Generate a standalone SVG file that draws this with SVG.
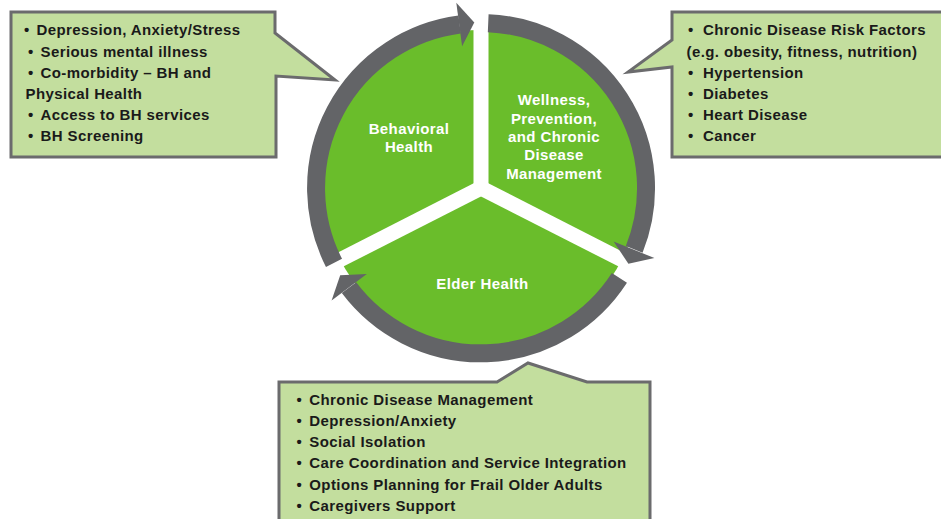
<svg xmlns="http://www.w3.org/2000/svg" width="941" height="519" viewBox="0 0 941 519">
  <defs>
    <style>
      .sector { fill: #6abd2b; }
      .sep { stroke: #ffffff; stroke-width: 15; stroke-linecap: butt; fill: none; }
      .ring { stroke: #636467; stroke-width: 18; fill: none; stroke-linecap: butt; }
      .head { fill: #636467; }
      .label { font-family: "Liberation Sans", Arial, sans-serif; font-weight: bold; font-size: 15px; letter-spacing: 0.4px; fill: #ffffff; text-anchor: middle; }
      .callout { fill: #c3de9e; stroke: #6b6b6d; stroke-width: 3; stroke-linejoin: miter; }
      .item { font-family: "Liberation Sans", Arial, sans-serif; font-weight: bold; font-size: 15px; letter-spacing: 0.4px; fill: #1a1a1a; }
    </style>
  </defs>

  <rect x="0" y="0" width="941" height="519" fill="#ffffff"/>

  <g id="behavioral-health">
    <path class="sector" d="M481,188 L340.2,259.7 A158,158 0 0 1 481,30 Z"/>
    <text class="label" x="409" y="133.5">Behavioral</text>
    <text class="label" x="409" y="152">Health</text>
  </g>

  <g id="wellness">
    <path class="sector" d="M481,188 L481,30 A158,158 0 0 1 621.8,259.7 Z"/>
    <text class="label" x="554" y="105">Wellness,</text>
    <text class="label" x="554" y="123.5">Prevention,</text>
    <text class="label" x="554" y="142">and Chronic</text>
    <text class="label" x="554" y="160">Disease</text>
    <text class="label" x="554" y="178.5">Management</text>
  </g>

  <g id="elder-health">
    <path class="sector" d="M481,188 L621.8,259.7 A158,158 0 0 1 340.2,259.7 Z"/>
    <text class="label" x="482.5" y="288.5">Elder Health</text>
  </g>

  <g id="separators">
    <line class="sep" x1="481" y1="188" x2="481" y2="26"/>
    <line class="sep" x1="481" y1="188" x2="627" y2="262.4"/>
    <line class="sep" x1="481" y1="188" x2="335" y2="262.4"/>
  </g>

  <g id="connectors">
    <path class="ring" d="M334.0,262.9 A165,165 0 0 1 459.6,24.5"/>
    <polygon class="head" points="456.3,2.7 474.3,22.5 462.1,46.3"/>
    <path class="ring" d="M488.2,23.2 A165,165 0 0 1 634.2,249.4"/>
    <polygon class="head" points="654.4,258.0 628.4,263.7 613.6,241.6"/>
    <path class="ring" d="M619.4,277.9 A165,165 0 0 1 349.0,287.6"/>
    <polygon class="head" points="331.6,300.5 340.2,275.3 366.8,274.1"/>
  </g>

  <g id="callout-behavioral">
    <path class="callout" d="M11,12 H275 V33 L335,80 L276,76 V157 H11 Z"/>
    <text class="item"><tspan x="24" y="35">•</tspan><tspan x="36.5" y="35">Depression, Anxiety/Stress</tspan></text>
    <text class="item"><tspan x="28" y="57">•</tspan><tspan x="40.5" y="57">Serious mental illness</tspan></text>
    <text class="item"><tspan x="28" y="78">•</tspan><tspan x="40.5" y="78">Co-morbidity – BH and</tspan></text>
    <text class="item" x="25.5" y="99">Physical Health</text>
    <text class="item"><tspan x="28" y="120">•</tspan><tspan x="40.5" y="120">Access to BH services</tspan></text>
    <text class="item"><tspan x="28" y="141">•</tspan><tspan x="40.5" y="141">BH Screening</tspan></text>
  </g>

  <g id="callout-wellness">
    <path class="callout" d="M672,12 H946 V157 H672 V67 L628,72 L672,40 Z"/>
    <text class="item"><tspan x="688" y="35">•</tspan><tspan x="703" y="35">Chronic Disease Risk Factors</tspan></text>
    <text class="item" x="686.5" y="57">(e.g. obesity, fitness, nutrition)</text>
    <text class="item"><tspan x="688" y="78">•</tspan><tspan x="703" y="78">Hypertension</tspan></text>
    <text class="item"><tspan x="688" y="99">•</tspan><tspan x="703" y="99">Diabetes</tspan></text>
    <text class="item"><tspan x="688" y="120">•</tspan><tspan x="703" y="120">Heart Disease</tspan></text>
    <text class="item"><tspan x="688" y="141">•</tspan><tspan x="703" y="141">Cancer</tspan></text>
  </g>

  <g id="callout-elder">
    <path class="callout" d="M279,382 H497 L528,363 L587,382 H650 V530 H279 Z"/>
    <text class="item"><tspan x="296.5" y="405">•</tspan><tspan x="309.3" y="405">Chronic Disease Management</tspan></text>
    <text class="item"><tspan x="296.5" y="426">•</tspan><tspan x="309.3" y="426">Depression/Anxiety</tspan></text>
    <text class="item"><tspan x="296.5" y="447">•</tspan><tspan x="309.3" y="447">Social Isolation</tspan></text>
    <text class="item"><tspan x="296.5" y="468">•</tspan><tspan x="309.3" y="468">Care Coordination and Service Integration</tspan></text>
    <text class="item"><tspan x="296.5" y="490">•</tspan><tspan x="309.3" y="490">Options Planning for Frail Older Adults</tspan></text>
    <text class="item"><tspan x="296.5" y="511">•</tspan><tspan x="309.3" y="511">Caregivers Support</tspan></text>
  </g>
</svg>
